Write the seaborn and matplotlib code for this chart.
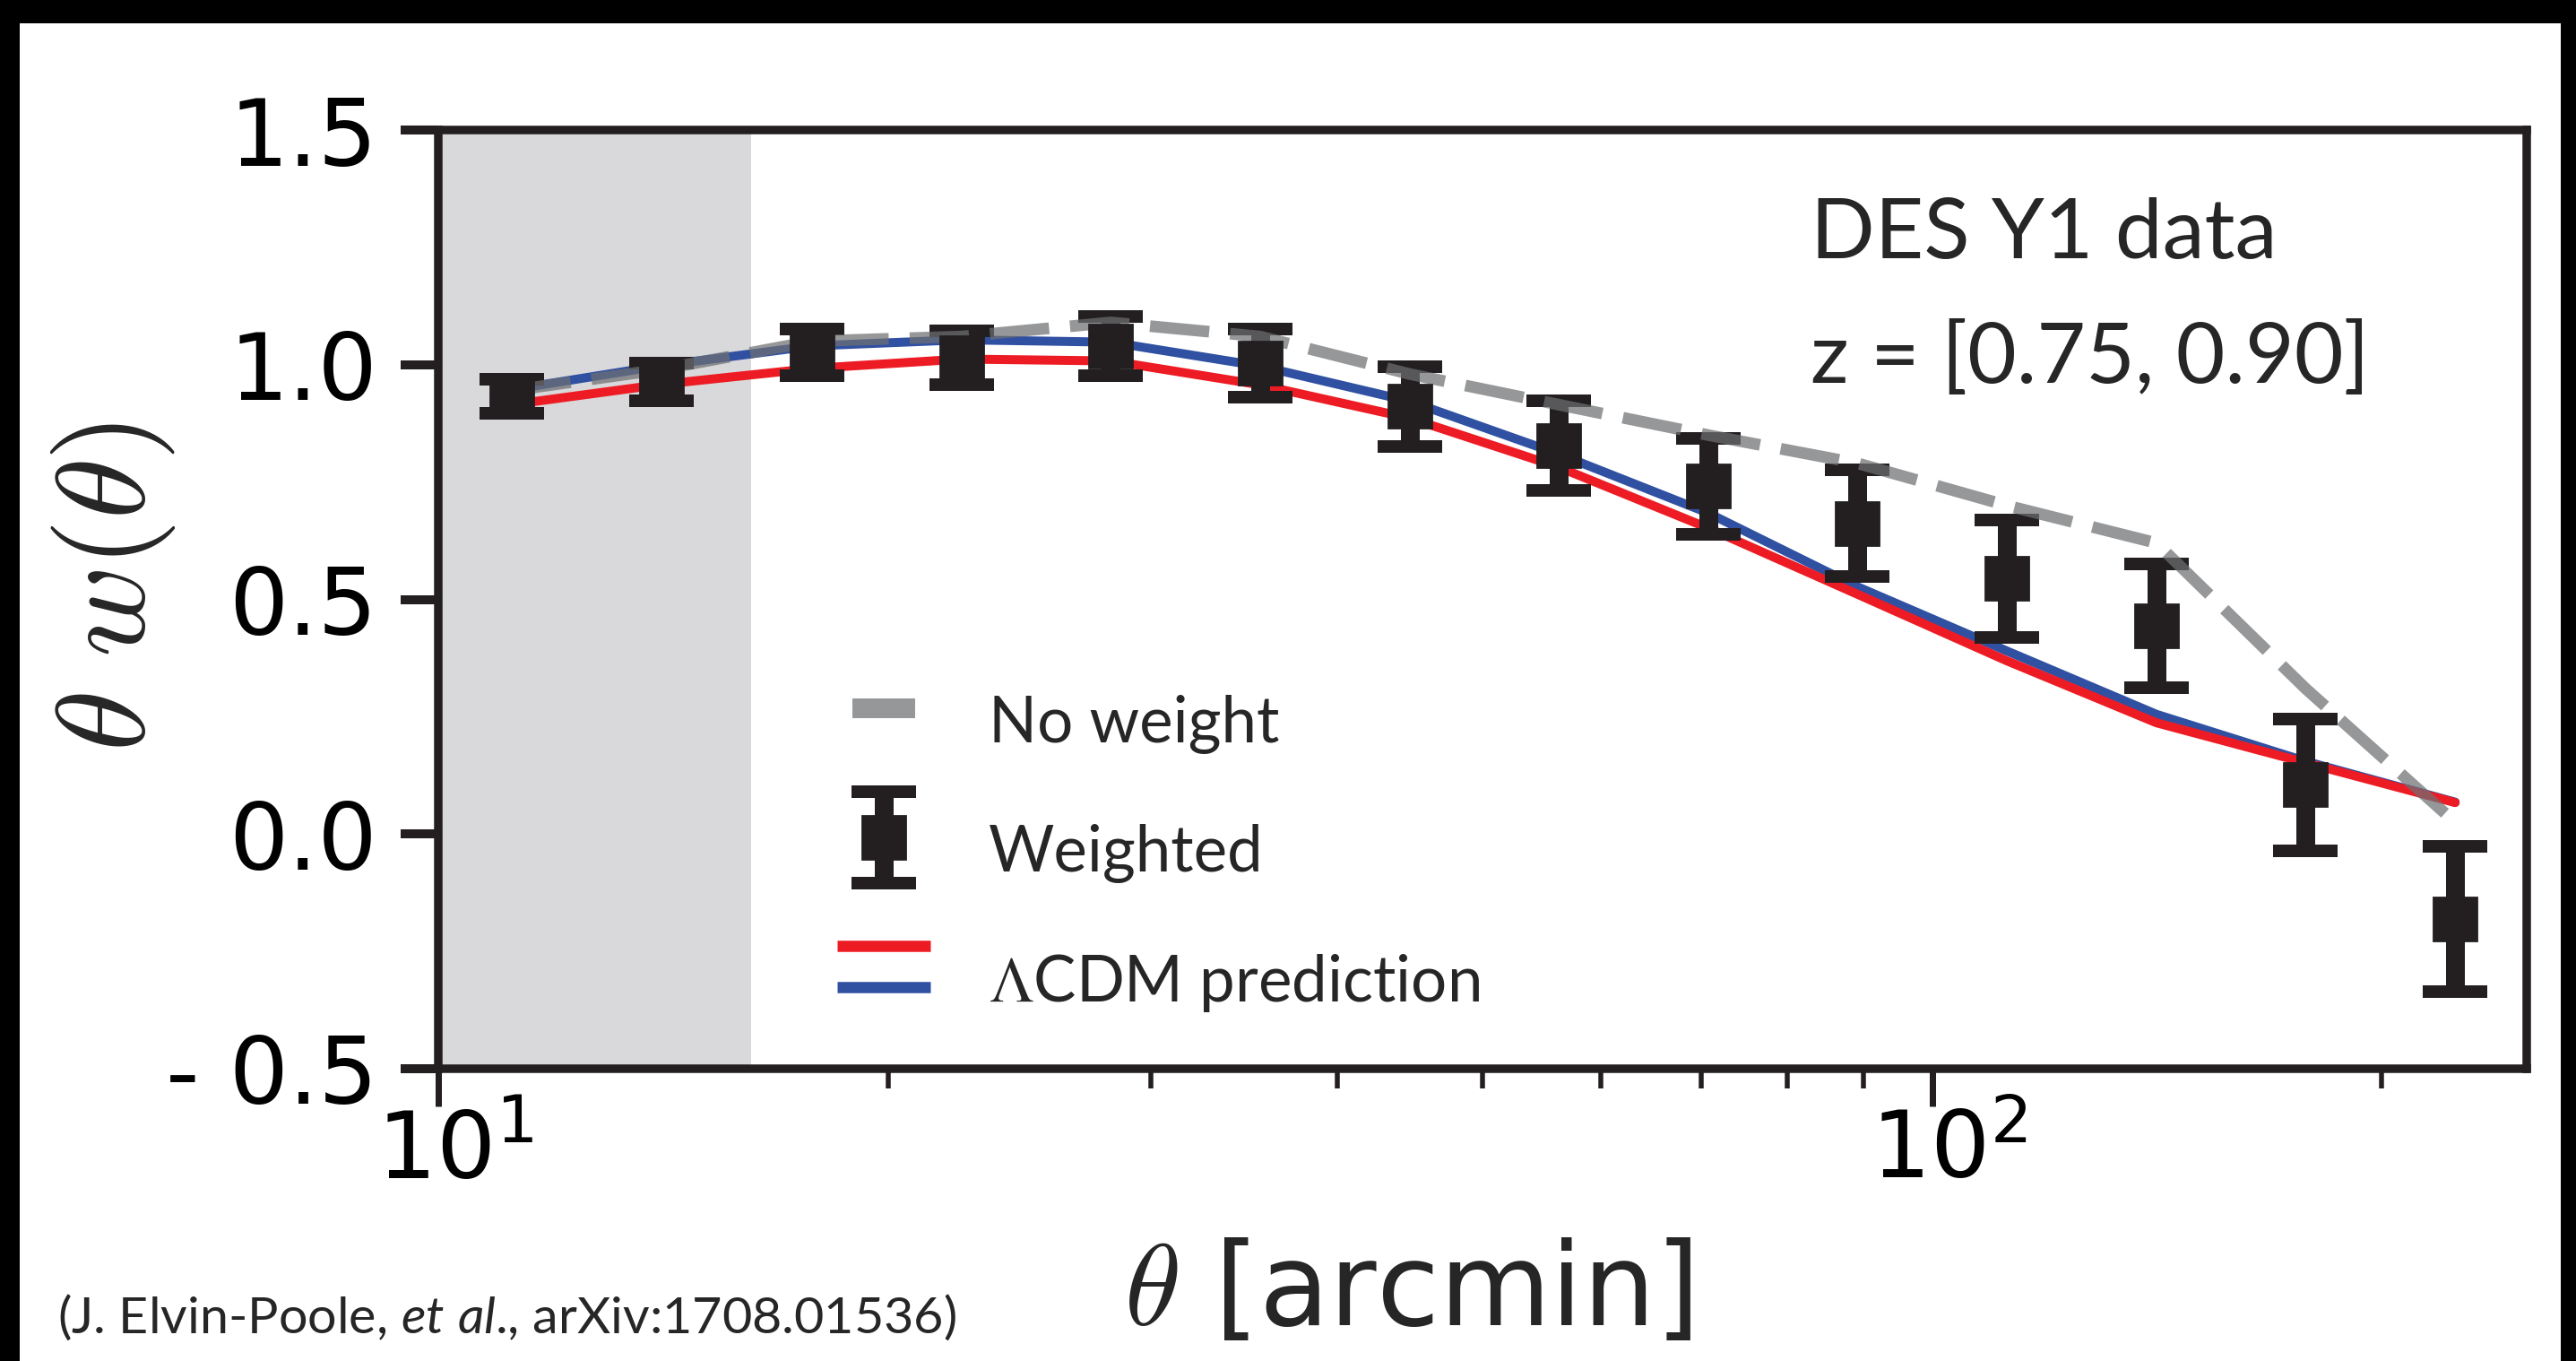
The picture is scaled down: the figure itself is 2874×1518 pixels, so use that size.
import pandas as pd
import seaborn as sns
from matplotlib import pyplot as plt
from matplotlib.lines import Line2D
from matplotlib.patches import Rectangle
from matplotlib.ticker import FixedLocator, FixedFormatter, NullFormatter
from matplotlib.transforms import ScaledTranslation
from matplotlib.legend_handler import HandlerBase, HandlerErrorbar
from matplotlib.container import ErrorbarContainer


# angular bins [arcmin]
theta = [11.2, 14.1, 17.8, 22.4, 28.2, 35.5, 44.7, 56.2, 70.8, 89.1, 112.2, 141.3, 177.8, 223.9]
# weighted measurement and its error
w_weighted = [0.933, 0.963, 1.026, 1.015, 1.040, 1.003, 0.911, 0.828, 0.741, 0.662, 0.544, 0.444, 0.105, -0.181]
w_err = [0.036, 0.040, 0.050, 0.057, 0.063, 0.073, 0.085, 0.096, 0.102, 0.114, 0.125, 0.132, 0.140, 0.155]
# unweighted measurement
w_no_weight = [0.945, 0.99, 1.05, 1.06, 1.09, 1.06, 0.98, 0.915, 0.85, 0.79, 0.70, 0.62, 0.31, 0.025]
# LCDM predictions (two cosmologies)
lcdm_red = [0.915, 0.958, 0.992, 1.012, 1.008, 0.957, 0.886, 0.782, 0.652, 0.511, 0.369, 0.237, 0.152, 0.067]
lcdm_blue = [0.947, 0.998, 1.040, 1.053, 1.048, 0.997, 0.922, 0.810, 0.684, 0.527, 0.390, 0.255, 0.155, 0.068]

scale_cut = 16.2
ytick_values = [-0.5, 0.0, 0.5, 1.0, 1.5]
ytick_labels = ['- 0.5', '0.0', '0.5', '1.0', '1.5']

INK = '#231f20'
GRAY = '#6e6f72'
RED = '#ed1c24'
BLUE = '#3050a2'
SHADE = '#d9d9db'
SANS = ['Lato', 'DejaVu Serif']
DPI = 200
W, H = 2874, 1518


def pt(px):
    return px * 72 / DPI


class HandlerBars(HandlerBase):
    # short horizontal bars, stacked top to bottom
    def __init__(self, lw, frac=1.0, gap=0.0):
        super().__init__()
        self.lw, self.frac, self.gap = lw, frac, gap

    def create_artists(self, legend, orig_handle, xdescent, ydescent, width, height, fontsize, trans):
        lines = orig_handle if isinstance(orig_handle, tuple) else (orig_handle,)
        x0 = -xdescent + width * (1 - self.frac) / 2
        x1 = x0 + width * self.frac
        yc = (height - ydescent) / 2
        bars = []
        for i, line in enumerate(lines):
            y = yc + self.gap * ((len(lines) - 1) / 2 - i)
            bar = Line2D([x0, x1], [y, y], color=line.get_color(), alpha=line.get_alpha(),
                         lw=self.lw, solid_capstyle='butt', transform=trans)
            bars.append(bar)
        return bars


sns.set_style('ticks')
plt.rcParams['font.family'] = 'DejaVu Sans'
plt.rcParams['mathtext.rm'] = 'Lato'
plt.rcParams['mathtext.it'] = 'Lato:italic'

df = pd.DataFrame({'theta': theta, 'no_weight': w_no_weight,
                   'lcdm_red': lcdm_red, 'lcdm_blue': lcdm_blue})

fig = plt.figure(figsize=(W / DPI, H / DPI), dpi=DPI, facecolor='black')
fig.add_artist(Rectangle((22 / W, 0), (2857 - 22) / W, 1 - 26 / H, transform=fig.transFigure,
                         facecolor='white', edgecolor='none', zorder=-1))
ax = fig.add_axes([489 / W, 1 - 1192 / H, (2819 - 489) / W, (1192 - 145) / H])
ax.set_xscale('log')
ax.set_xlim(10, 250)
ax.set_ylim(-0.5, 1.5)

ax.axvspan(10, scale_cut, color=SHADE, lw=0, zorder=0)

sns.lineplot(data=df, x='theta', y='lcdm_blue', color=BLUE, lw=pt(10), estimator=None, sort=False, ax=ax)
blue_line = ax.lines[-1]
sns.lineplot(data=df, x='theta', y='lcdm_red', color=RED, lw=pt(10), estimator=None, sort=False, ax=ax)
red_line = ax.lines[-1]

eb = ax.errorbar(theta, w_weighted, yerr=w_err, fmt='s', color=INK, ms=pt(51) - 1,
                 elinewidth=pt(21), capsize=pt(72) / 2, capthick=pt(14), zorder=2)

sns.lineplot(data=df, x='theta', y='no_weight', color=GRAY, alpha=0.72, lw=pt(13),
             linestyle=(0, (5.1, 1.8)), estimator=None, sort=False, ax=ax)
gray_line = ax.lines[-1]

# axes styling
for spine in ax.spines.values():
    spine.set_visible(True)
    spine.set_linewidth(pt(9.5))
    spine.set_color(INK)

ax.yaxis.set_major_locator(FixedLocator(ytick_values))
ax.yaxis.set_major_formatter(FixedFormatter(ytick_labels))
ax.xaxis.set_minor_formatter(NullFormatter())
ax.tick_params(axis='y', which='major', direction='out', length=pt(42), width=pt(10),
               color=INK, labelsize=37.5, pad=pt(26), labelcolor='black')
ax.tick_params(axis='x', which='major', direction='out', length=pt(42), width=pt(7),
               color=INK, labelsize=37.5, pad=pt(2), labelcolor='black')
ax.tick_params(axis='x', which='minor', direction='out', length=pt(22), width=pt(5.5), color=INK)
# the "10" sits on the tick, the exponent hangs to the right
shift = ScaledTranslation(pt(19) / 72, 0, fig.dpi_scale_trans)
for lbl in ax.xaxis.get_majorticklabels():
    lbl.set_transform(lbl.get_transform() + shift)

ax.set_xlabel(r'$\theta$ [arcmin]', fontsize=46, math_fontfamily='cm')
ax.xaxis.set_label_coords(0.464, (1192 - 1478) / 1047)
ax.xaxis.label.set_va('baseline')
ax.set_ylabel(r'$\theta\ w(\theta)$', fontsize=50, math_fontfamily='cm')
ax.yaxis.set_label_coords((127 - 489) / 2330, 0.513)
ax.yaxis.label.set_va('center')

ax.text(0.657, 0.8634, 'DES Y1 data', transform=ax.transAxes, fontsize=34, family=SANS, va='baseline')
ax.text(0.657, 0.7307, 'z = [0.75, 0.90]', transform=ax.transAxes, fontsize=34, family=SANS, va='baseline')

leg = ax.legend([gray_line, eb, (red_line, blue_line)],
                ['No weight', 'Weighted', r'$\Lambda$CDM prediction'],
                handler_map={gray_line: HandlerBars(lw=pt(22), frac=70 / 104),
                             ErrorbarContainer: HandlerErrorbar(yerr_size=0.72),
                             tuple: HandlerBars(lw=pt(12.5), gap=pt(46))},
                loc='upper left', bbox_to_anchor=(0.191, 0.4208), frameon=False,
                borderpad=0, borderaxespad=0, handlelength=1.47, handleheight=1.96,
                handletextpad=0.92, labelspacing=0.52, prop={'family': SANS, 'size': 25.5})
for t in leg.get_texts():
    t.set_math_fontfamily('stix')

fig.text(64 / W, 1 - 1487 / H, r'(J. Elvin-Poole, $\mathit{et\ al}$., arXiv:1708.01536)',
         fontsize=20.7, family=SANS, va='baseline', math_fontfamily='custom')

fig.savefig('out.png', dpi=DPI)
